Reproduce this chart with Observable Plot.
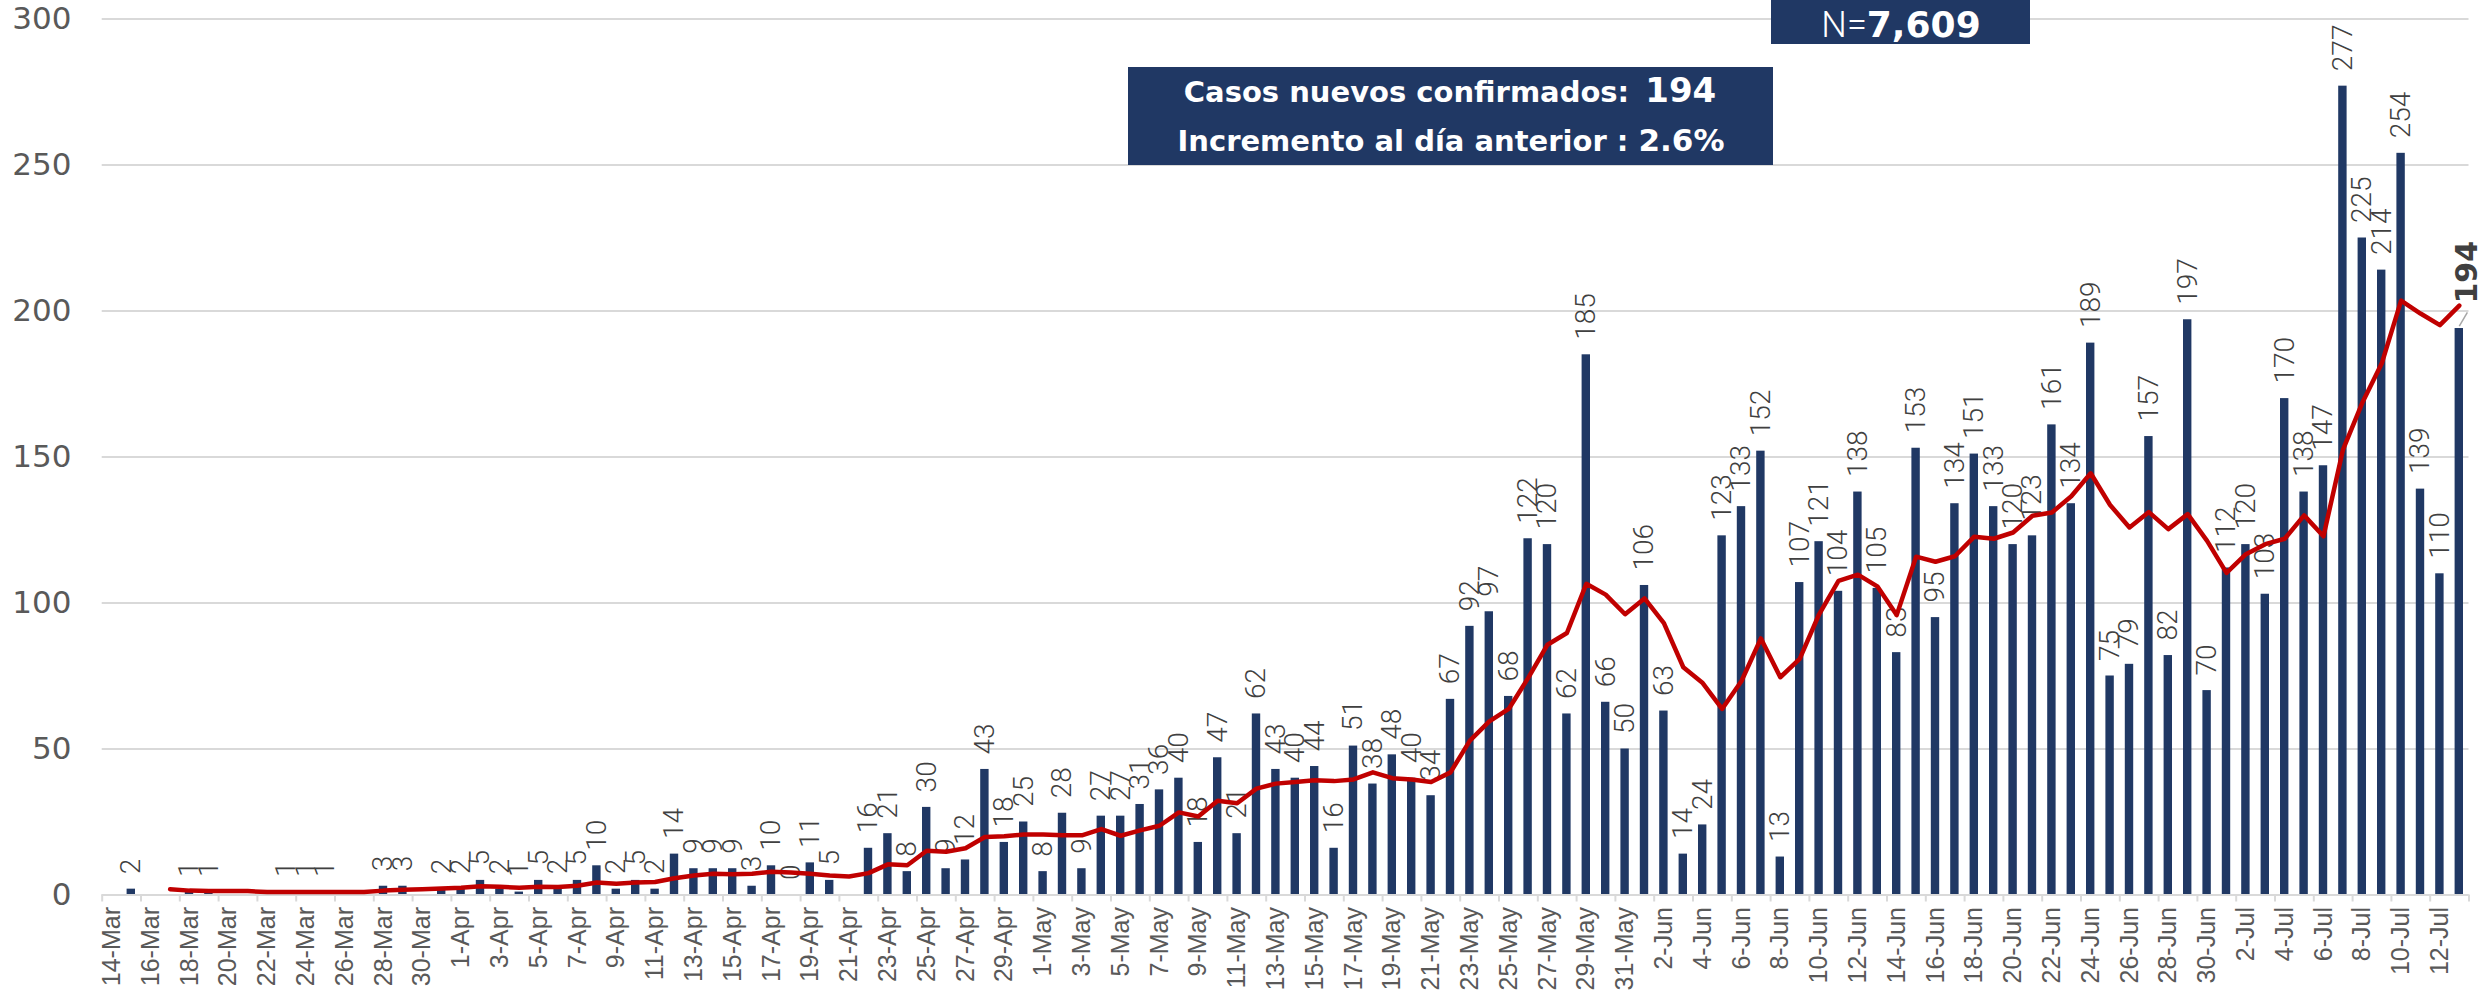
<!DOCTYPE html>
<html><head><meta charset="utf-8">
<script src="https://cdn.jsdelivr.net/npm/d3@7"></script>
<script src="https://cdn.jsdelivr.net/npm/@observablehq/plot@0.6"></script>
<style>html,body{margin:0;padding:0;background:#fff;overflow:hidden}</style>
</head><body><div id="chart"></div><script>
// ---- data (null = no report that day) ----
const monthNames = ["Mar", "Apr", "May", "Jun", "Jul"];
const casosMarzo = [null, 2, null, null, 1, 1, null, null, null, 1, 1, 1, null, null, 3, 3, null, 2]; // 14..31 Mar
const casosAbril = [2, 5, 2, 1, 5, 2, 5, 10, 2, 5, 2, 14, 9, 9, 9, 3, 10, 0, 11, 5, null, 16, 21, 8, 30, 9, 12, 43, 18, 25];
const casosMayo = [8, 28, 9, 27, 27, 31, 36, 40, 18, 47, 21, 62, 43, 40, 44, 16, 51, 38, 48, 40, 34, 67, 92, 97, 68, 122, 120, 62, 185, 66, 50];
const casosJunio = [106, 63, 14, 24, 123, 133, 152, 13, 107, 121, 104, 138, 105, 83, 153, 95, 134, 151, 133, 120, 123, 161, 134, 189, 75, 79, 157, 82, 197, 70];
const casosJulio = [112, 120, 103, 170, 138, 147, 277, 225, 214, 254, 139, 110, 194]; // 1..13 Jul
// red line (7-day average), starting 17-Mar
const promedio7 = [
  2.00, 1.50, 1.33, 1.33, 1.33, 1.00, 1.00, 1.00, 1.00, 1.00, 1.00, 1.50, 1.80, 2.00, 2.25,
  2.50, 3.00, 2.83, 2.50, 2.83, 2.71, 3.14, 4.29, 3.86, 4.29, 4.43, 5.71, 6.71, 7.29, 7.14, 7.29, 8.00, 7.71, 7.29, 6.71, 6.33, 7.50, 10.50, 10.17, 15.17, 14.83, 16.00, 19.86, 20.14, 20.71,
  20.71, 20.43, 20.43, 22.57, 20.29, 22.14, 23.71, 28.29, 26.86, 32.29, 31.43, 36.43, 38.14, 38.71, 39.29, 39.00, 39.57, 42.00, 40.00, 39.57, 38.71, 42.00, 52.86, 59.43, 63.71, 74.29, 85.71, 89.71, 106.57, 102.86, 96.14,
  101.57, 93.14, 78.00, 72.57, 63.71, 73.29, 87.86, 74.57, 80.86, 96.14, 107.57, 109.71, 105.71, 95.86, 115.86, 114.14, 116.00, 122.71, 122.00, 124.14, 129.86, 131.00, 136.57, 144.43, 133.57, 125.86, 131.14, 125.29, 130.43, 121.29,
  110.29, 116.71, 120.14, 122.00, 130.00, 122.86, 152.43, 168.57, 182.00, 203.57, 199.14, 195.14, 201.86
];
const yTicks = [0, 50, 100, 150, 200, 250, 300];
const totalN = "7,609";
const casosNuevosHoy = "194";
const incremento = "2.6%";

// ---- build table ----
const monthBlocks = [
  {month: 2, first: 14, values: casosMarzo},
  {month: 3, first: 1, values: casosAbril},
  {month: 4, first: 1, values: casosMayo},
  {month: 5, first: 1, values: casosJunio},
  {month: 6, first: 1, values: casosJulio}
];
const days = [];
monthBlocks.forEach(({month, first, values}) =>
  values.forEach((v, i) => days.push({date: new Date(Date.UTC(2020, month, first + i)), value: v})));
const mid = d => d3.utcHour.offset(d, 12);
const next = d => d3.utcDay.offset(d, 1);
const bars = days.filter(d => d.value !== null);
const lastDay = days[days.length - 1];
const regularLabels = bars.filter(d => d !== lastDay);
const lineData = days.slice(days.length - promedio7.length).map((d, i) => ({date: d.date, ma: promedio7[i]}));
const labelTicks = days.filter((d, i) => i % 2 === 0).map(d => mid(d.date));
const boundaryTicks = days.filter((d, i) => i % 2 === 0).map(d => d.date).concat([next(lastDay.date)]);
const fmt = d => `${d.getUTCDate()}-${monthNames[d.getUTCMonth() - 2]}`;

const navy = "#203864";
const grid = "#d9d9d9";

const chart = Plot.plot({
  width: 2491,
  height: 990,
  marginLeft: 101.7,
  marginRight: 22.5,
  marginTop: 18.5,
  marginBottom: 95.5,
  style: {background: "#fff"},
  x: {type: "utc", domain: [days[0].date, next(lastDay.date)], axis: null},
  y: {domain: [0, 300], axis: null},
  marks: [
    Plot.gridY(yTicks, {stroke: grid, strokeOpacity: 1, strokeWidth: 2}),
    Plot.axisY(yTicks, {tickSize: 0, tickPadding: 30.7, fontSize: 31, fontFamily: "DejaVu Sans", color: "#595959", tickFormat: d => d}),
    Plot.axisX(boundaryTicks, {tickSize: 7, tickFormat: () => "", stroke: grid, strokeWidth: 2}),
    Plot.axisX(labelTicks, {tickSize: 0, tickPadding: 12, tickRotate: -90, tickFormat: fmt, fontSize: 25, fontFamily: "Liberation Sans, Arial, sans-serif", color: "#595959"}),
    Plot.rectY(bars, {x1: d => d.date, x2: d => next(d.date), y: "value", fill: navy, insetLeft: 5.5, insetRight: 5.5}),
    Plot.ruleY([0], {stroke: grid, strokeWidth: 2}),
    Plot.text(regularLabels, {x: d => mid(d.date), y: "value", text: d => String(d.value), rotate: -90, textAnchor: "start", dy: -15, fontSize: 28, fontWeight: 300, fontFamily: "Roboto, sans-serif", fill: "#404040"}),
    Plot.link([lastDay], {x1: d => mid(d.date), y1: d => d.value + 0.8, x2: d => d3.utcHour.offset(mid(d.date), 10), y2: d => d.value + 5.5, stroke: "#a6a6a6", strokeWidth: 1.5}),
    Plot.text([lastDay], {x: d => mid(d.date), y: "value", text: d => String(d.value), rotate: -90, textAnchor: "start", dx: 8, dy: -25, fontSize: 30, fontWeight: "bold", fontFamily: "DejaVu Sans, sans-serif", fill: "#404040"}),
    Plot.lineY(lineData, {x: d => mid(d.date), y: "ma", stroke: "#c00000", strokeWidth: 4.5, strokeLinejoin: "round"})
  ]
});
document.getElementById("chart").appendChild(chart);

// ---- annotation boxes ----
const svg = d3.select(chart);
const ann = svg.append("g");
ann.append("rect").attr("x", 1128).attr("y", 67).attr("width", 645).attr("height", 98).attr("fill", navy);
const t1 = ann.append("text").attr("x", 1450).attr("y", 102).attr("text-anchor", "middle")
  .attr("fill", "#fff").attr("font-family", "DejaVu Sans, sans-serif").attr("font-weight", "bold").attr("font-size", 29);
t1.append("tspan").text("Casos nuevos confirmados:");
t1.append("tspan").attr("dx", 16).attr("font-size", 34).text(casosNuevosHoy);
const t2 = ann.append("text").attr("x", 1451).attr("y", 151).attr("text-anchor", "middle")
  .attr("fill", "#fff").attr("font-family", "DejaVu Sans, sans-serif").attr("font-weight", "bold").attr("font-size", 29);
t2.append("tspan").text("Incremento al día anterior : ");
t2.append("tspan").attr("font-size", 31).text(incremento);

ann.append("rect").attr("x", 1771).attr("y", -5).attr("width", 259).attr("height", 49).attr("fill", navy);
const t3 = ann.append("text").attr("x", 1901).attr("y", 37).attr("text-anchor", "middle").attr("fill", "#fff").attr("font-size", 36);
t3.append("tspan").attr("font-family", "Roboto, sans-serif").attr("font-weight", 300).text("N=");
t3.append("tspan").attr("font-family", "DejaVu Sans, sans-serif").attr("font-weight", "bold").text(totalN);
</script></body></html>
